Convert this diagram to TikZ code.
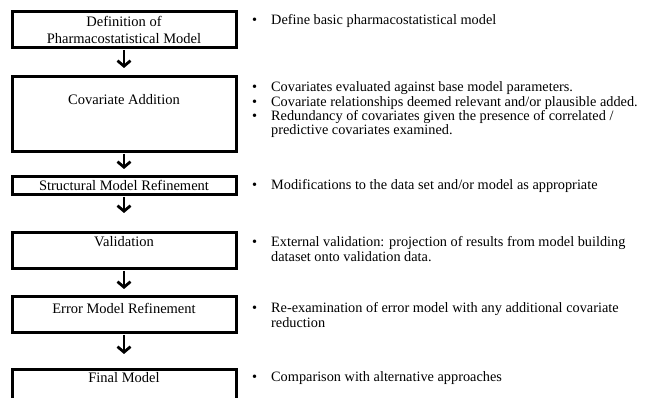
\documentclass[tikz,border=0pt]{standalone}
\usepackage{fontspec}
\setmainfont{Liberation Serif}
\usetikzlibrary{arrows.meta,calc}
\newcommand{\bulletmark}{\hspace{3pt}\textbullet}
\begin{document}
\begin{tikzpicture}[x=1pt,y=1pt,
  box/.style={draw,line width=3pt,minimum width=224pt,anchor=north west,inner sep=0pt,outer sep=0pt},
  lbl/.style={font=\fontsize{14.5}{17}\selectfont,align=center,inner sep=0pt},
  bul/.style={font=\fontsize{14.3}{14}\selectfont,anchor=base west,inner sep=0pt},
  arr/.style={line width=2.8pt,-{Straight Barb[length=5.5pt,width=13pt]}}
]
\useasboundingbox (0,0) rectangle (649,-398);
\clip (0,0) rectangle (649,-398);
% boxes
\node[box,minimum height=36pt] (b1) at (12,-12) {};
\node[box,minimum height=75pt] (b2) at (12,-77) {};
\node[box,minimum height=18pt] (b3) at (12,-177) {};
\node[box,minimum height=36pt] (b4) at (12,-233) {};
\node[box,minimum height=36pt] (b5) at (12,-297) {};
\node[box,minimum height=36pt] (b6) at (12,-370) {};
% box labels
\node[lbl] (t1) at (124,-29.5) {Definition of\\Pharmacostatistical Model};
\node[lbl] (t2) at (124,-100) {Covariate Addition};
\node[lbl] (t3) at (124,-185) {Structural Model Refinement};
\node[lbl] (t4) at (124,-242) {Validation};
\node[lbl] (t5) at (124,-308) {Error Model Refinement};
\node[lbl] (t6) at (124,-378) {Final Model};
% arrows
\coordinate (a1) at (124,-68);
\coordinate (a2) at (124,-169);
\coordinate (a3) at (124,-213);
\coordinate (a4) at (124,-289);
\coordinate (a5) at (124,-354);
\draw[arr] ($(b1.south)+(0,-2)$) -- (a1);
\draw[arr] ($(b2.south)+(0,-2)$) -- (a2);
\draw[arr] ($(b3.south)+(0,-2)$) -- (a3);
\draw[arr] ($(b4.south)+(0,-2)$) -- (a4);
\draw[arr] ($(b5.south)+(0,-2)$) -- (a5);
% bullets
\node[bul] (d1) at (249,-25) {\begin{tabular}[t]{@{}p{22pt}@{}l@{}}\bulletmark & Define basic pharmacostatistical model\end{tabular}};
\node[bul] (d2) at (249,-92) {\begin{tabular}[t]{@{}p{22pt}@{}l@{}}\bulletmark & Covariates evaluated against base model parameters.\\
\bulletmark & Covariate relationships deemed relevant and/or plausible added.\\
\bulletmark & Redundancy of covariates given the presence of correlated /\\
 & predictive covariates examined.\end{tabular}};
\node[bul] (d3) at (249,-190) {\begin{tabular}[t]{@{}p{22pt}@{}l@{}}\bulletmark & Modifications to the data set and/or model as appropriate\end{tabular}};
\node[bul] (d4) at (249,-247) {\begin{tabular}[t]{@{}p{22pt}@{}l@{}}\bulletmark & External validation: projection of results from model building\\
 & dataset onto validation data.\end{tabular}};
\node[bul] (d5) at (249,-313) {\begin{tabular}[t]{@{}p{22pt}@{}l@{}}\bulletmark & Re-examination of error model with any additional covariate\\
 & reduction\end{tabular}};
\node[bul] (d6) at (249,-382) {\begin{tabular}[t]{@{}p{22pt}@{}l@{}}\bulletmark & Comparison with alternative approaches\end{tabular}};
\end{tikzpicture}
\end{document}
